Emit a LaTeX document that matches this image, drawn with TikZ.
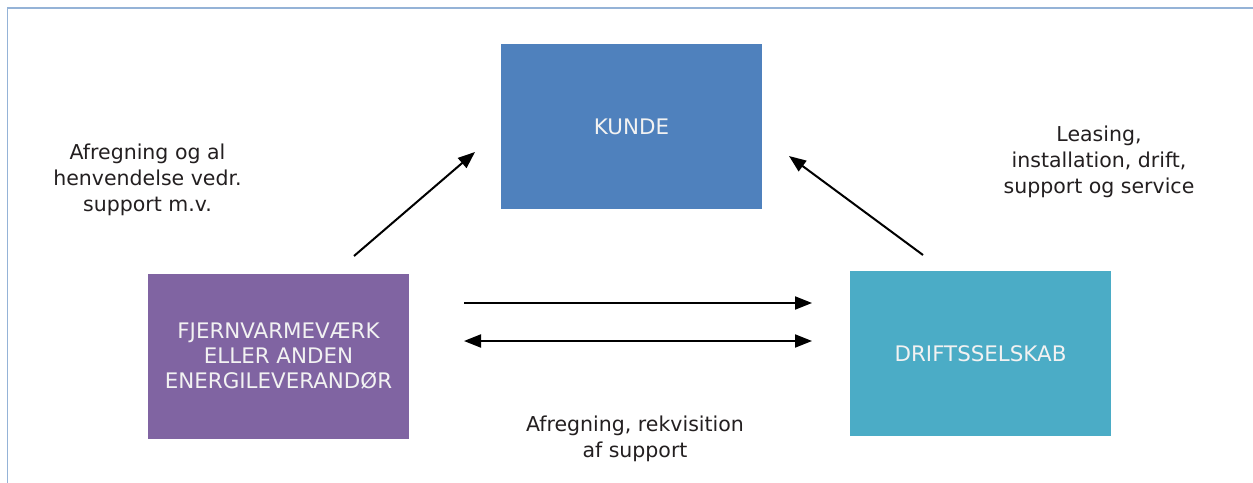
\documentclass[tikz,border=0pt]{standalone}
\usepackage{fontspec}
\setmainfont{DejaVu Sans}
\usetikzlibrary{arrows.meta}
\definecolor{frameblue}{HTML}{95B3D7}
\definecolor{kundeblue}{HTML}{4F81BD}
\definecolor{fjpurple}{HTML}{8064A2}
\definecolor{driftteal}{HTML}{4BACC6}
\definecolor{txtgray}{HTML}{231F20}
\definecolor{boxtxt}{HTML}{F2F2F2}
\tikzset{
  boxnode/.style={minimum width=261pt, minimum height=165pt, inner sep=0pt, text=boxtxt, align=center,
    font=\fontsize{21.4}{25}\selectfont},
  lbl/.style={text=txtgray, align=center, inner sep=0pt, font=\fontsize{20.5}{26}\selectfont},
  arr/.style={line width=2pt, -{Triangle[length=17pt,width=13pt]}},
  darr/.style={line width=2pt, {Triangle[length=17pt,width=13pt]}-{Triangle[length=17pt,width=13pt]}}
}
\begin{document}
\begin{tikzpicture}[x=1pt,y=-1pt]
\useasboundingbox (0,0) rectangle (1253,482);
\fill[white] (0,0) rectangle (1253,482);
\draw[frameblue, line width=1.2pt] (7.5,490) -- (7.5,8) -- (1260,8);
\node[boxnode, fill=kundeblue] (kunde) at (631.5,126.5) {KUNDE};
\node[boxnode, fill=fjpurple] (fj) at (278.5,356.5) {FJERNVARMEVÆRK\\ELLER ANDEN\\ENERGILEVERANDØR};
\node[boxnode, fill=driftteal] (drift) at (980.5,353.5) {DRIFTSSELSKAB};
\node[lbl] (lblleft) at (147.5,179.5) {Afregning og al\\henvendelse vedr.\\support m.v.};
\node[lbl] (lblright) at (1099,161.5) {Leasing,\\installation, drift,\\support og service};
\node[lbl] (lblbottom) at (635,439) {Afregning, rekvisition\\af support};
\coordinate (a1s) at (354,256);
\coordinate (a1e) at (475,152);
\coordinate (a2s) at (923,255);
\coordinate (a2e) at (789,156);
\coordinate (h1s) at (464,303);
\coordinate (h1e) at (812,303);
\coordinate (h2s) at (464,341);
\coordinate (h2e) at (812,341);
\draw[arr] (a1s) -- (a1e);
\draw[arr] (a2s) -- (a2e);
\draw[arr] (h1s) -- (h1e);
\draw[darr] (h2s) -- (h2e);
\end{tikzpicture}
\end{document}
